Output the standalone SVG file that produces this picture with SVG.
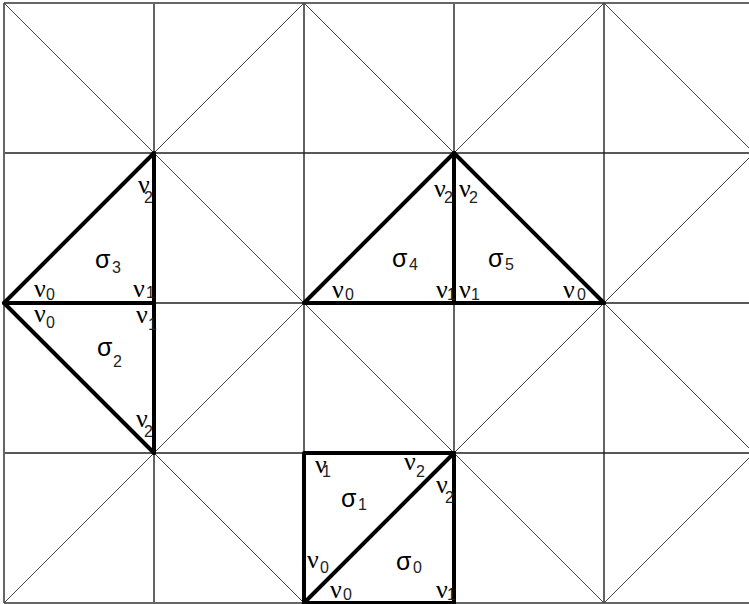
<svg xmlns="http://www.w3.org/2000/svg" width="749" height="604" viewBox="0 0 749 604">
<style>
.grid{stroke:#222;stroke-width:1.4;fill:none}
.border{stroke:#666;stroke-width:2;fill:none}
.diag{stroke:#444;stroke-width:1;fill:none}
.thick{stroke:#000;stroke-width:4;fill:none;stroke-linejoin:round;stroke-linecap:round}
.nu{font-family:"Liberation Serif",serif;font-size:26px;fill:#000}
.sg{font-family:"Liberation Sans",sans-serif;font-size:25px;fill:#000}
.sub{font-family:"Liberation Sans",sans-serif;font-size:16px;fill:#222}
</style>
<rect width="749" height="604" fill="#fff"/>
<g id="grid">
<path class="grid" d="M154,3V603M304,3V603M454,3V603M604,3V603M4,153H749M4,303H749M4,453H749"/>
<path class="border" d="M4,3V603M4,3H749M4,603H749"/>
</g>
<g id="connectors">
<path class="diag" d="M4,3L604,603M304,3L754,453M4,303L304,603M604,3L754,153M4,303L304,3M4,603L604,3M304,603L754,153M604,603L754,453"/>
</g>
<g id="sigma3">
<path class="thick" d="M4,303L154,153L154,303Z"/>
</g>
<g id="sigma2">
<path class="thick" d="M4,303L154,453L154,303"/>
</g>
<g id="sigma4">
<path class="thick" d="M304,303L454,153L454,303Z"/>
</g>
<g id="sigma5">
<path class="thick" d="M454,153L604,303L454,303"/>
</g>
<g id="sigma1">
<path class="thick" d="M304,603L304,453L454,453L304,603"/>
</g>
<g id="sigma0">
<path class="thick" d="M304,603L454,603L454,453"/>
</g>
<g id="labels">
<text class="sg" x="95" y="268">σ<tspan class="sub" x="112" y="273">3</tspan></text>
<text class="nu" x="138" y="193">ν<tspan class="sub" x="144" y="203">2</tspan></text>
<text class="nu" x="34" y="297">ν<tspan class="sub" x="46" y="300">0</tspan></text>
<text class="nu" x="133" y="297">ν<tspan class="sub" x="146" y="298">1</tspan></text>

<text class="sg" x="97" y="356">σ<tspan class="sub" x="113" y="367">2</tspan></text>
<text class="nu" x="34" y="322">ν<tspan class="sub" x="46" y="328">0</tspan></text>
<text class="nu" x="136" y="323">ν<tspan class="sub" x="148" y="330">1</tspan></text>
<text class="nu" x="136" y="427">ν<tspan class="sub" x="144" y="437">2</tspan></text>

<text class="sg" x="392" y="267">σ<tspan class="sub" x="409" y="270">4</tspan></text>
<text class="sg" x="488" y="267">σ<tspan class="sub" x="505" y="270">5</tspan></text>
<text class="nu" x="434" y="197">ν<tspan class="sub" x="444" y="203">2</tspan></text>
<text class="nu" x="459" y="197">ν<tspan class="sub" x="469" y="203">2</tspan></text>
<text class="nu" x="332" y="298">ν<tspan class="sub" x="345" y="300">0</tspan></text>
<text class="nu" x="436" y="298">ν<tspan class="sub" x="447" y="300">1</tspan></text>
<text class="nu" x="459" y="298">ν<tspan class="sub" x="471" y="300">1</tspan></text>
<text class="nu" x="563" y="298">ν<tspan class="sub" x="577" y="300">0</tspan></text>

<text class="sg" x="341" y="507">σ<tspan class="sub" x="358" y="510">1</tspan></text>
<text class="sg" x="396" y="570">σ<tspan class="sub" x="413" y="573">0</tspan></text>
<text class="nu" x="315" y="473">ν<tspan class="sub" x="322" y="477">1</tspan></text>
<text class="nu" x="404" y="470">ν<tspan class="sub" x="416" y="477">2</tspan></text>
<text class="nu" x="436" y="493">ν<tspan class="sub" x="445" y="503">2</tspan></text>
<text class="nu" x="307" y="568">ν<tspan class="sub" x="320" y="573">0</tspan></text>
<text class="nu" x="330" y="598">ν<tspan class="sub" x="343" y="600">0</tspan></text>
<text class="nu" x="436" y="598">ν<tspan class="sub" x="447" y="600">1</tspan></text>
</g>
</svg>
